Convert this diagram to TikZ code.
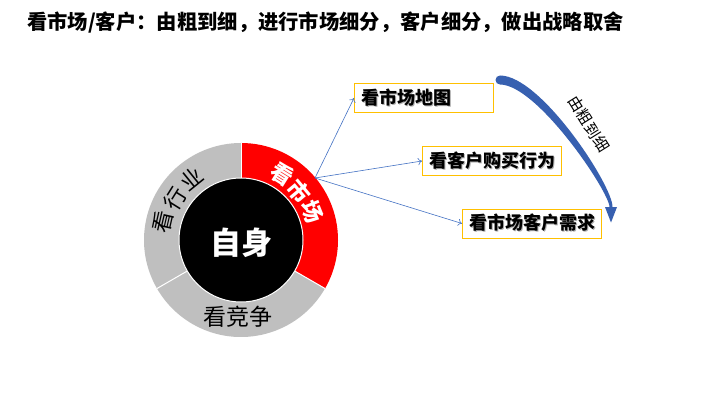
\documentclass[tikz,border=0pt]{standalone}
\usepackage{fontspec}
\setmainfont{Noto Sans CJK SC}
\usetikzlibrary{arrows.meta,calc}
\definecolor{boxgold}{RGB}{255,192,0}
\definecolor{lgray}{RGB}{191,191,191}
\definecolor{connblue}{RGB}{68,114,196}
\definecolor{curveblue}{RGB}{55,96,176}
\definecolor{shadowgray}{RGB}{175,175,175}
\newcommand\shadowtxt[1]{\makebox[125pt][l]{\rlap{\raisebox{-0.8pt}{\hspace{0.8pt}\textcolor{shadowgray}{#1}}}#1}}
\begin{document}
\begin{tikzpicture}[x=1pt,y=1pt,
  box/.style={draw=boxgold, line width=1pt, fill=white, minimum width=139pt, minimum height=29pt,
    inner xsep=7pt, inner ysep=0pt, anchor=west, font=\bfseries\fontsize{18}{18}\selectfont},
  conn/.style={draw=connblue, line width=0.6pt, -{To[length=4pt,width=7pt]}},
  ringbold/.style={white, font=\bfseries\fontsize{22}{22}\selectfont, inner sep=0pt},
  ringnorm/.style={black, font=\fontsize{22}{22}\selectfont, inner sep=0pt}]
\useasboundingbox[fill=white] (0,0) rectangle (720,405);

% title
\node[anchor=west, inner sep=0pt, font=\bfseries\fontsize{20.3}{20.3}\selectfont] (title) at (27,383)
  {看市场/客户：由粗到细，进行市场细分，客户细分，做出战略取舍};

% donut
\coordinate (c) at (241,165);
\fill[red] (c) -- ++(90:97) arc[start angle=90,end angle=-30,radius=97] -- cycle;
\fill[lgray] (c) -- ++(-30:97) arc[start angle=-30,end angle=-150,radius=97] -- cycle;
\fill[lgray] (c) -- ++(210:97) arc[start angle=210,end angle=90,radius=97] -- cycle;
\draw[white, line width=1pt] (c) -- ++(90:97);
\draw[white, line width=1pt] (c) -- ++(-30:97);
\draw[white, line width=1pt] (c) -- ++(210:97);
\fill[black] (c) circle[radius=62];
\draw[white, line width=1pt] (c) circle[radius=62];

\node[white, font=\bfseries\fontsize{31}{31}\selectfont, inner sep=0pt] (self) at ($(c)+(0,-3)$) {自身};

\node[ringbold, rotate=-32] (m1) at ($(c)+(58:78)$) {看};
\node[ringbold, rotate=-50] (m2) at ($(c)+(40:76)$) {市};
\node[ringbold, rotate=-68] (m3) at ($(c)+(22:77)$) {场};

\node[ringnorm, rotate=77] (h1) at ($(c)+(167:80)$) {看};
\node[ringnorm, rotate=58] (h2) at ($(c)+(148:77)$) {行};
\node[ringnorm, rotate=39] (h3) at ($(c)+(129:79)$) {业};

\node[black, font=\fontsize{23}{23}\selectfont, inner sep=0pt] (comp) at (238,88) {看竞争};

% boxes
\node[box] (b1) at (354,307) {\shadowtxt{看市场地图}};
\node[box] (b2) at (422,244) {\shadowtxt{看客户购买行为}};
\node[box] (b3) at (462,181.5) {\shadowtxt{看市场客户需求}};

% connectors
\coordinate (src) at (315,227);
\draw[conn] (src) -- (b1.west);
\draw[conn] (src) -- (b2.west);
\draw[conn] (src) -- (b3.west);

% curved tapered arrow
\fill[curveblue] (500,329.5) .. controls (541,329.5) and (613,219) .. (612.5,198)
  -- (617,198) -- (611,182.5) -- (605,198) -- (609.5,198)
  .. controls (609,214) and (537,320.5) .. (500,320.5)
  arc[start angle=270,end angle=90,radius=4.5] -- cycle;
\node[font=\fontsize{15.5}{15.5}\selectfont, rotate=-58, inner sep=0pt] (lbl) at (589,281) {由粗到细};
\end{tikzpicture}
\end{document}
